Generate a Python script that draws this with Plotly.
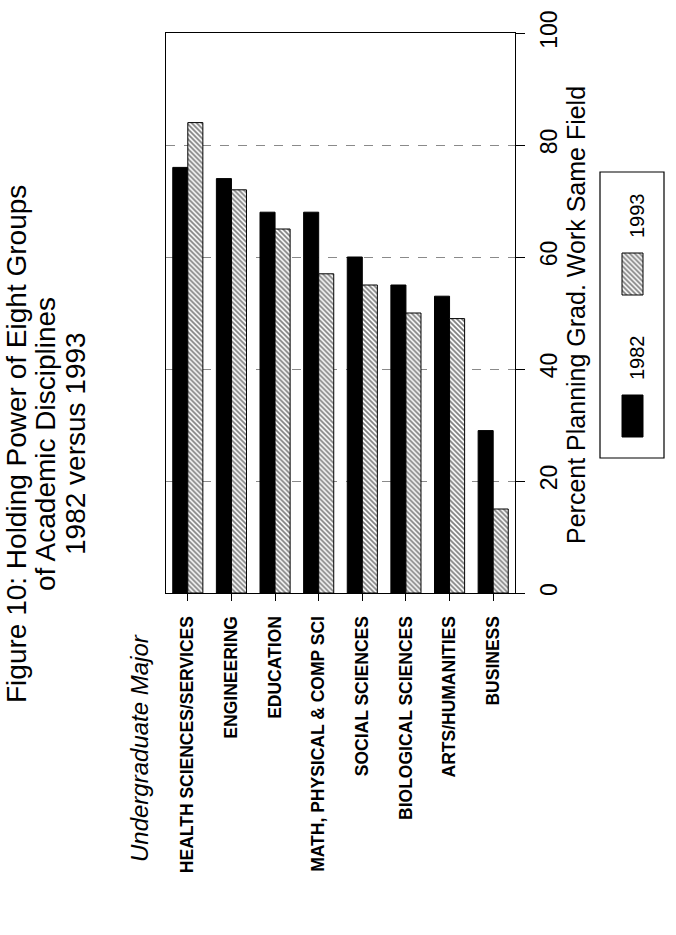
import plotly.graph_objects as go

categories = ["HEALTH SCIENCES/SERVICES", "ENGINEERING", "EDUCATION",
              "MATH, PHYSICAL & COMP SCI", "SOCIAL SCIENCES",
              "BIOLOGICAL SCIENCES", "ARTS/HUMANITIES", "BUSINESS"]
v1982 = [76, 74, 68, 68, 60, 55, 53, 29]
v1993 = [84, 72, 65, 57, 55, 50, 49, 15]
series_names = ["1982", "1993"]
value_ticks = [0, 20, 40, 60, 80, 100]

W, H = 676, 935
FONT = "Arial, Liberation Sans, Helvetica, sans-serif"
HATCH = dict(shape="\\", fgcolor="black", bgcolor="white", size=3.5, solidity=0.5)

fig = go.Figure()
fig.add_trace(go.Bar(x=categories, y=v1982, name=series_names[0],
                     marker=dict(color="black", line=dict(color="black", width=1)),
                     xaxis="x", yaxis="y"))
fig.add_trace(go.Bar(x=categories, y=v1993, name=series_names[1],
                     marker=dict(color="white", line=dict(color="black", width=1),
                                 pattern=HATCH),
                     xaxis="x", yaxis="y"))

# legend swatches on a pixel-coordinate overlay axis
fig.add_trace(go.Scatter(x=[622, 643, 643, 622, 622], y=[395, 395, 437, 437, 395],
                         mode="lines", fill="toself", fillcolor="black",
                         line=dict(color="black", width=1), xaxis="x2", yaxis="y2",
                         hoverinfo="skip"))
fig.add_trace(go.Scatter(x=[622, 643, 643, 622, 622], y=[253, 253, 295, 295, 253],
                         mode="lines", fill="toself", fillpattern=HATCH,
                         line=dict(color="black", width=1), xaxis="x2", yaxis="y2",
                         hoverinfo="skip"))

x0, x1, y0, y1 = 166, 515, 33, 593
fig.update_layout(
    width=W, height=H,
    margin=dict(l=0, r=0, t=0, b=0, autoexpand=False),
    paper_bgcolor="white", plot_bgcolor="rgba(0,0,0,0)",
    showlegend=False,
    barmode="group", bargap=0.31, bargroupgap=0,
    font=dict(family=FONT, color="black"),
    xaxis=dict(domain=[x0 / W, x1 / W], anchor="y", automargin=False,
               showline=True, linecolor="black", linewidth=1.2, mirror=True,
               ticks="outside", ticklen=7, tickcolor="black",
               tickangle=-90, ticklabelstandoff=8,
               tickfont=dict(family=FONT, size=17.5, weight="bold"),
               showgrid=False),
    yaxis=dict(domain=[1 - y1 / H, 1 - y0 / H], anchor="x", side="right",
               automargin=False,
               range=[0, 100], tickvals=value_ticks,
               showline=True, linecolor="black", linewidth=1.2, mirror=True,
               ticks="outside", ticklen=9, tickcolor="black",
               tickangle=-90, ticklabelstandoff=4,
               tickfont=dict(family=FONT, size=23),
               showgrid=True, gridcolor="#8a8a8a", gridwidth=1, griddash="dash",
               zeroline=False),
    xaxis2=dict(domain=[0, 1], range=[0, W], anchor="y2", visible=False,
                fixedrange=True, automargin=False),
    yaxis2=dict(domain=[0, 1], range=[H, 0], anchor="x2", visible=False,
                fixedrange=True, automargin=False),
)

fig.add_shape(type="rect", xref="x2", yref="y2", x0=600, x1=664, y0=172, y1=458,
              line=dict(color="black", width=1.2), fillcolor="rgba(0,0,0,0)")

def ann(text, x, y, size, italic=False):
    fig.add_annotation(text=text, x=x, y=y, xref="x2", yref="y2", showarrow=False,
                       textangle=-90, xanchor="center", yanchor="middle",
                       font=dict(family=FONT, size=size, color="black",
                                 style="italic" if italic else "normal"))

ann("Figure 10: Holding Power of Eight Groups", 16, 444, 28)
ann("of Academic Disciplines", 45, 444, 28)
ann("1982 versus 1993", 75, 444, 28)
ann("Undergraduate Major", 139, 748, 24, italic=True)
ann("Percent Planning Grad. Work Same Field", 576, 315, 25)
ann(series_names[0], 637, 358, 20)
ann(series_names[1], 637, 216, 20)

fig.write_html("out.html")
